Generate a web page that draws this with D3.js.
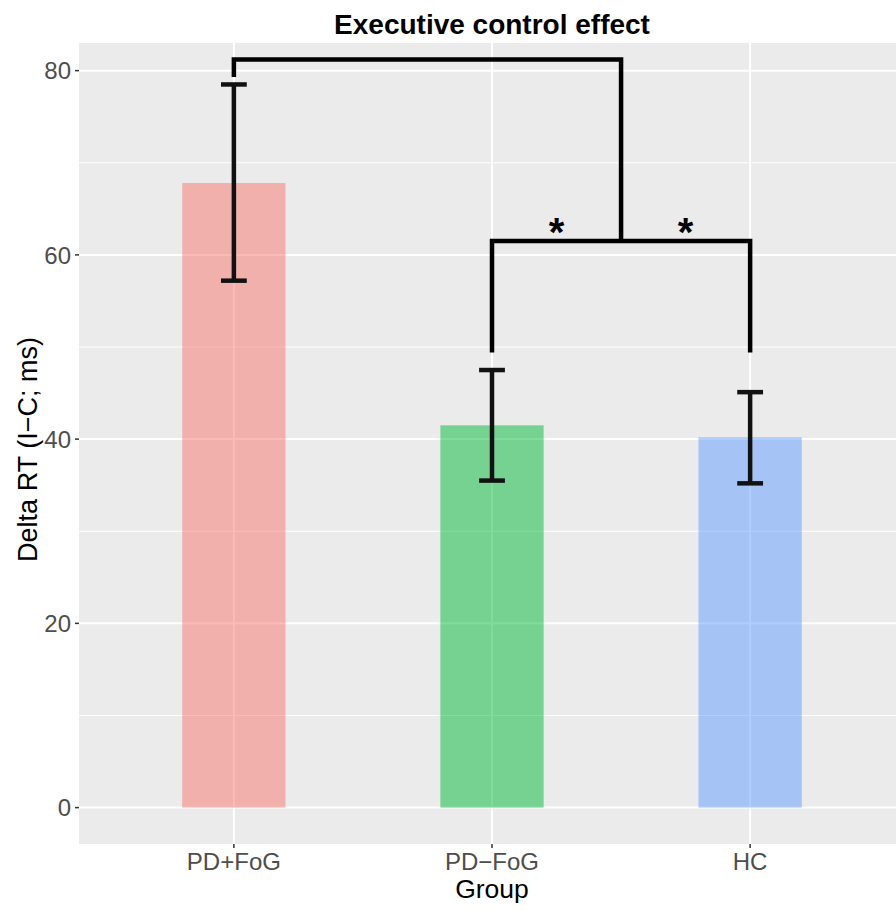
<!DOCTYPE html>
<html><head><meta charset="utf-8">
<script src="https://cdn.jsdelivr.net/npm/d3@7"></script>
<style>body{margin:0;background:#fff;} text{font-family:"Liberation Sans",Arial,sans-serif;}</style>
</head><body>
<svg id="chart" width="896" height="911"></svg>
<script>
const categories = ["PD+FoG", "PD\u2212FoG", "HC"];
const meanValues = [67.8, 41.5, 40.2];
const errLow = [57.2, 35.5, 35.2];
const errHigh = [78.5, 47.5, 45.1];
const barColors = ["#F8766D", "#00BA38", "#619CFF"];
const yTicks = [0, 20, 40, 60, 80];
const yMinor = [10, 30, 50, 70];
// significance brackets (y-values in data units)
const outerBracket = {from: "PD+FoG", top: 81.2, leftEnd: 79.3};
const innerBracket = {from: "PD\u2212FoG", to: "HC", top: 61.5, ends: 49.4};
const stars = ["*", "*"];

const svg = d3.select("#chart");
const P = {left: 79, right: 905, top: 43, bottom: 844};
const x = d3.scalePoint().domain(categories).range([P.left, P.right]).padding(0.6);
const y = d3.scaleLinear().domain([-3.95, 83.0]).range([P.bottom, P.top]);
const step = x.step();

svg.append("rect").attr("x", P.left).attr("y", P.top).attr("width", P.right - P.left)
  .attr("height", P.bottom - P.top).attr("fill", "#EBEBEB");

const grid = svg.append("g");
grid.selectAll(".minor").data(yMinor).join("line")
  .attr("x1", P.left).attr("x2", P.right).attr("y1", d => y(d)).attr("y2", d => y(d))
  .attr("stroke", "#fff").attr("stroke-width", 1);
grid.selectAll(".major").data(yTicks).join("line")
  .attr("x1", P.left).attr("x2", P.right).attr("y1", d => y(d)).attr("y2", d => y(d))
  .attr("stroke", "#fff").attr("stroke-width", 2);
grid.selectAll(".vmajor").data(categories).join("line")
  .attr("x1", d => x(d)).attr("x2", d => x(d)).attr("y1", P.top).attr("y2", P.bottom)
  .attr("stroke", "#fff").attr("stroke-width", 2);

const bw = step * 0.4;
svg.append("g").selectAll("rect").data(categories).join("rect")
  .attr("x", d => x(d) - bw / 2).attr("width", bw)
  .attr("y", (d, i) => y(meanValues[i])).attr("height", (d, i) => y(0) - y(meanValues[i]))
  .attr("fill", (d, i) => barColors[i]).attr("fill-opacity", 0.5);

// error bars
const cw = step * 0.1;
const eb = svg.append("g").attr("stroke", "#111").attr("stroke-width", 4.5).attr("fill", "none");
categories.forEach((c, i) => {
  const cx = x(c);
  eb.append("line").attr("x1", cx).attr("x2", cx).attr("y1", y(errLow[i])).attr("y2", y(errHigh[i]));
  eb.append("line").attr("x1", cx - cw / 2).attr("x2", cx + cw / 2).attr("y1", y(errLow[i])).attr("y2", y(errLow[i]));
  eb.append("line").attr("x1", cx - cw / 2).attr("x2", cx + cw / 2).attr("y1", y(errHigh[i])).attr("y2", y(errHigh[i]));
});

// brackets
const br = svg.append("g").attr("stroke", "#000").attr("stroke-width", 4.5).attr("fill", "none").attr("stroke-linejoin", "miter");
const ix1 = x(innerBracket.from), ix2 = x(innerBracket.to), imid = (ix1 + ix2) / 2;
br.append("path").attr("d", d3.line()([[ix1, y(innerBracket.ends)], [ix1, y(innerBracket.top)], [ix2, y(innerBracket.top)], [ix2, y(innerBracket.ends)]]));
const ox1 = x(outerBracket.from);
br.append("path").attr("d", d3.line()([[ox1, y(outerBracket.leftEnd)], [ox1, y(outerBracket.top)], [imid, y(outerBracket.top)], [imid, y(innerBracket.top)]]));

svg.append("g").selectAll("text").data(stars).join("text")
  .attr("x", (d, i) => i === 0 ? (ix1 + imid) / 2 : (imid + ix2) / 2)
  .attr("y", y(innerBracket.top) + 5)
  .attr("text-anchor", "middle").attr("font-size", 40).attr("font-weight", "bold").attr("fill", "#000")
  .text(d => d);

// axes
const ya = svg.append("g");
ya.selectAll("line").data(yTicks).join("line")
  .attr("x1", P.left - 4).attr("x2", P.left).attr("y1", d => y(d)).attr("y2", d => y(d))
  .attr("stroke", "#333").attr("stroke-width", 1.5);
ya.selectAll("text").data(yTicks).join("text")
  .attr("x", P.left - 8).attr("y", d => y(d)).attr("dy", "0.36em")
  .attr("text-anchor", "end").attr("font-size", 24).attr("fill", "#4D4D4D").text(d => d);

const xa = svg.append("g");
xa.selectAll("line").data(categories).join("line")
  .attr("x1", d => x(d)).attr("x2", d => x(d)).attr("y1", P.bottom).attr("y2", P.bottom + 4)
  .attr("stroke", "#333").attr("stroke-width", 1.5);
xa.selectAll("text").data(categories).join("text")
  .attr("x", d => x(d)).attr("y", 869.5)
  .attr("text-anchor", "middle").attr("font-size", 24).attr("fill", "#4D4D4D").text(d => d);

svg.append("text").attr("x", (P.left + P.right) / 2).attr("y", 898)
  .attr("text-anchor", "middle").attr("font-size", 26.5).attr("fill", "#000").text("Group");
svg.append("text").attr("transform", `translate(37,${(P.top + P.bottom) / 2 + 6}) rotate(-90)`)
  .attr("text-anchor", "middle").attr("font-size", 27).attr("fill", "#000").text("Delta RT (I\u2212C; ms)");
svg.append("text").attr("x", (P.left + P.right) / 2).attr("y", 34)
  .attr("text-anchor", "middle").attr("font-size", 28).attr("font-weight", "bold").attr("fill", "#000")
  .text("Executive control effect");
</script>
</body></html>
